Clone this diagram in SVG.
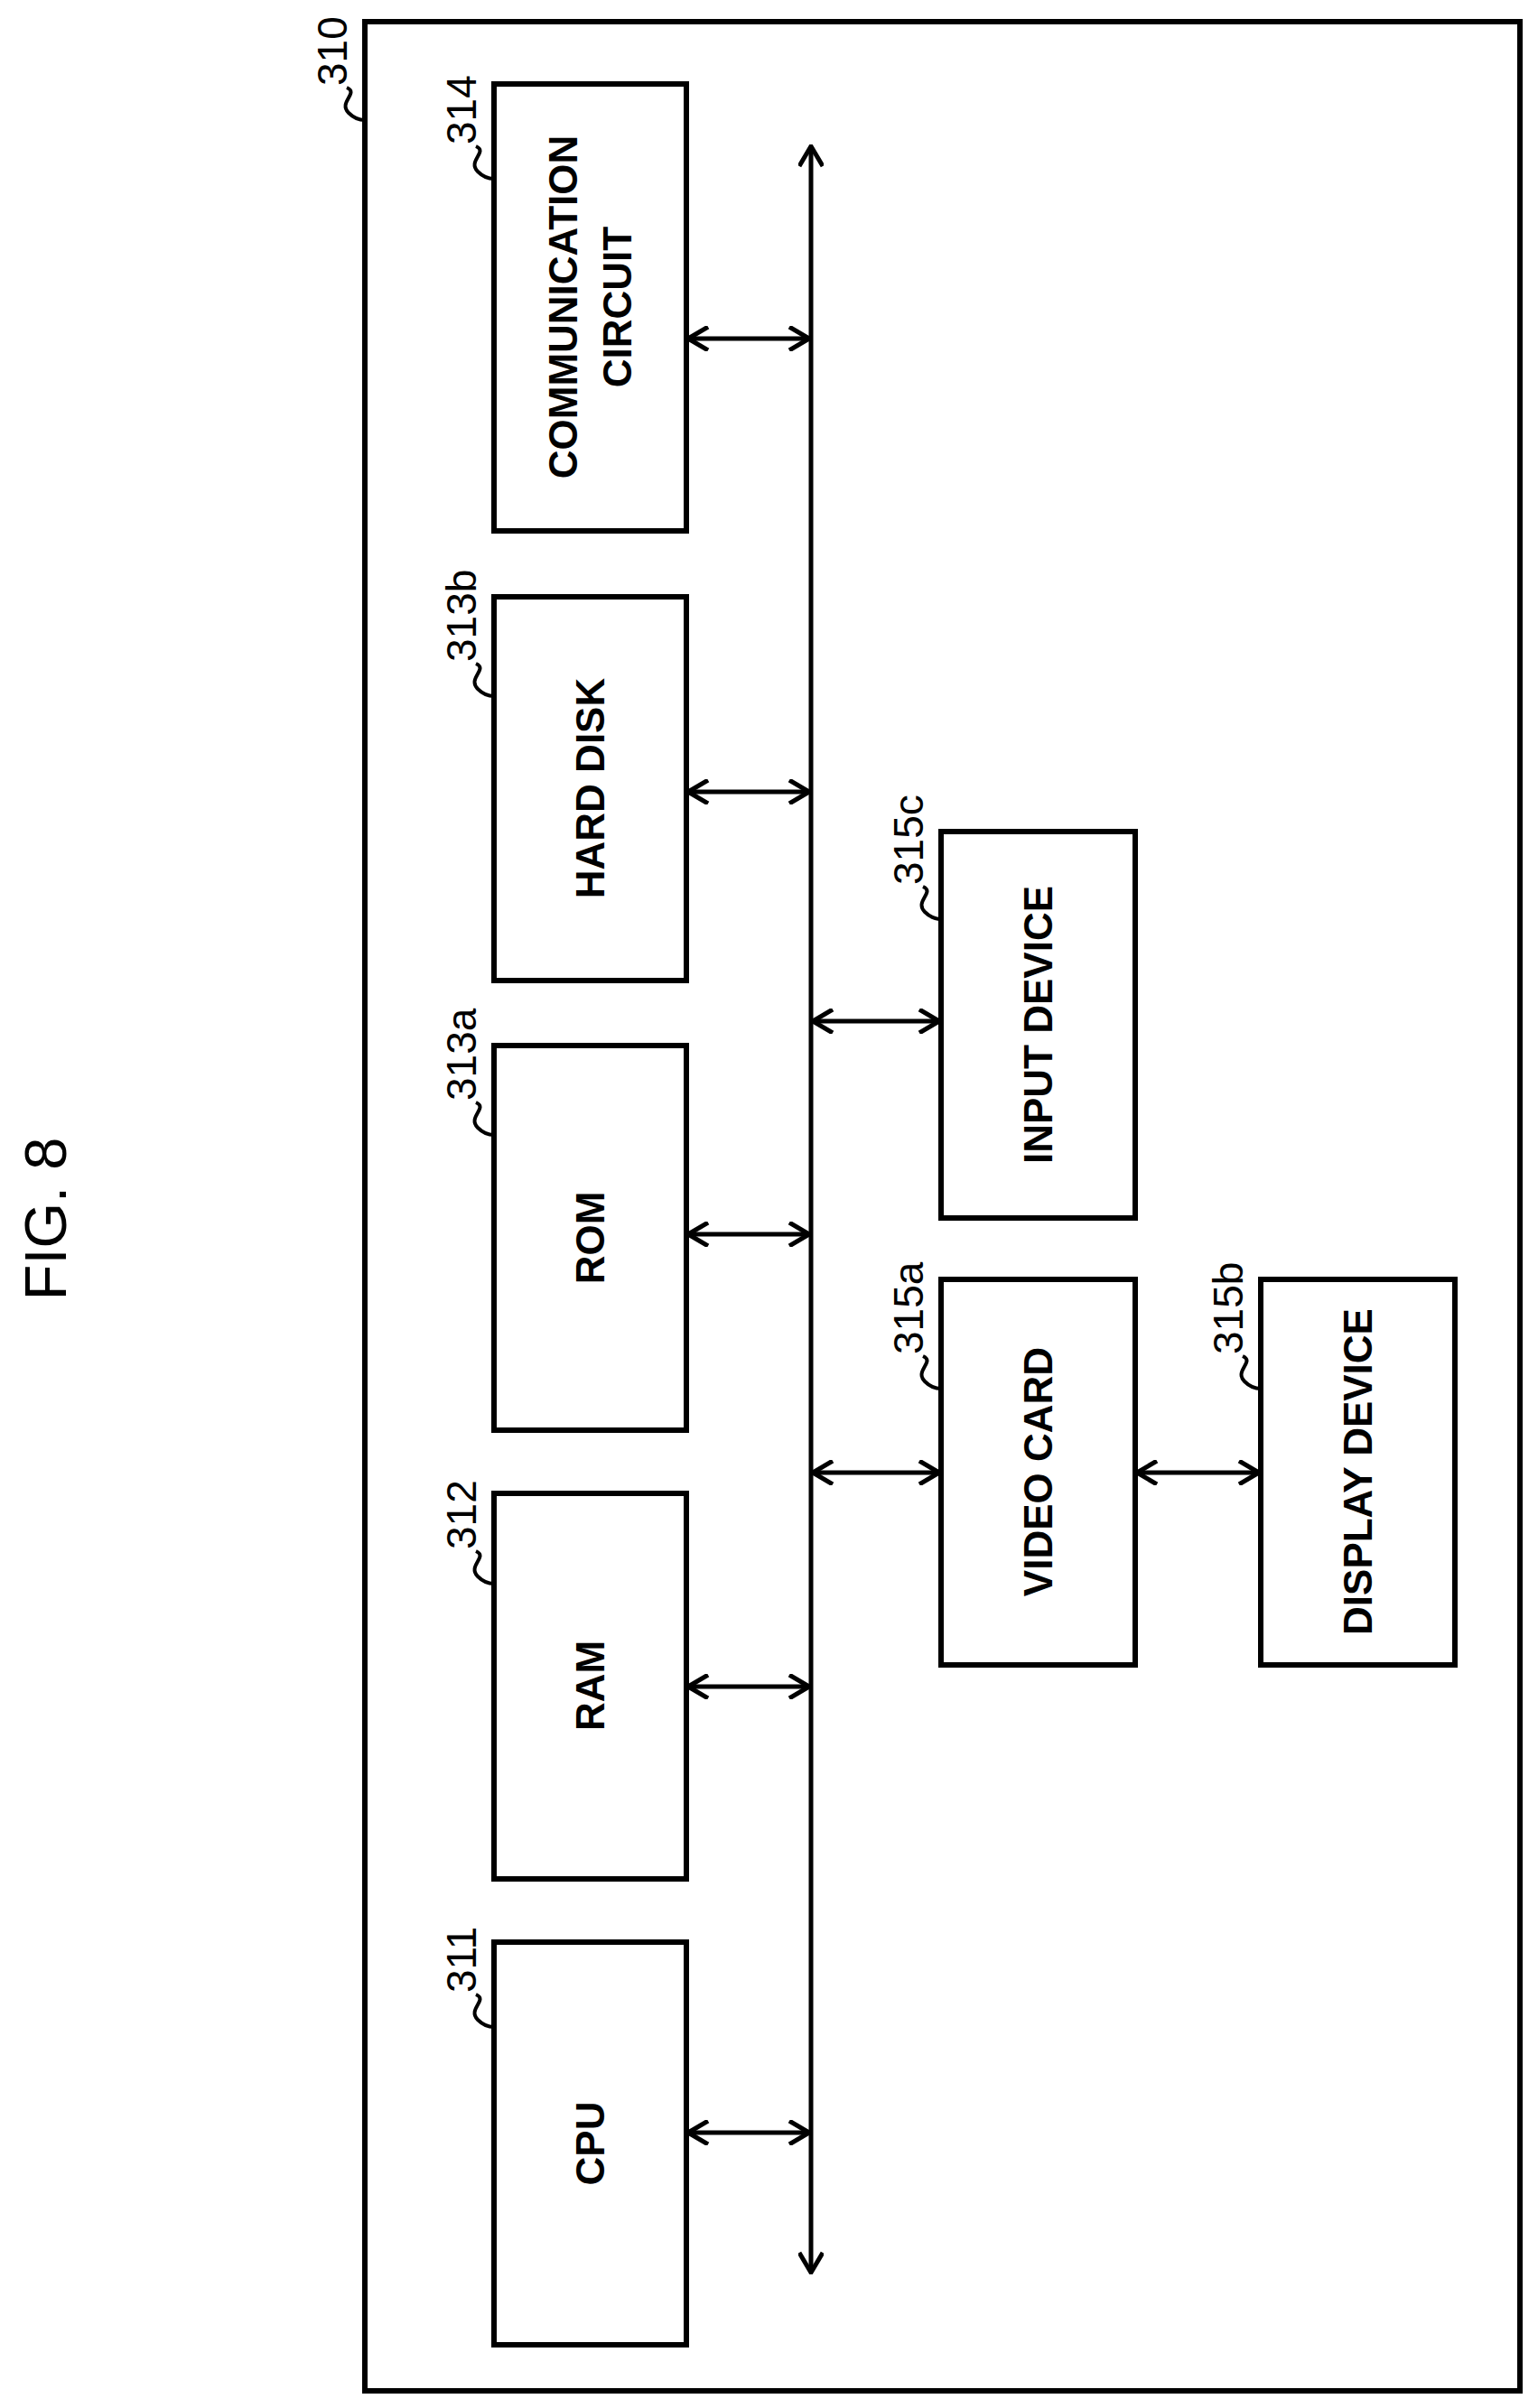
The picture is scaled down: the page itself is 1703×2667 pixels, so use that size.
<svg xmlns="http://www.w3.org/2000/svg" width="1703" height="2667" viewBox="0 0 1703 2667">
<defs>
<style>
rect{fill:#fff;stroke:#000;stroke-width:6}
.t{font-family:"Liberation Sans",Arial,sans-serif;font-size:44px;font-weight:bold;fill:#000}
.n{font-weight:normal;font-size:46px}
.c{text-anchor:middle;dominant-baseline:central}
.l{fill:none;stroke:#000;stroke-width:4}
.a{fill:none;stroke:#000;stroke-width:5}
</style>
<marker id="ah" viewBox="0 0 28 28" refX="26" refY="14" markerWidth="28" markerHeight="28" markerUnits="userSpaceOnUse" orient="auto-start-reverse"><path d="M4,1 L26,14 L4,27" fill="none" stroke="#000" stroke-width="5"/></marker>
</defs>
<rect x="0" y="0" width="1703" height="2667" style="stroke:none"/>
<text class="t" transform="translate(73,1350) rotate(-90)" text-anchor="middle" style="font-size:65px;font-weight:normal">FIG. 8</text>
<g id="n310"><rect x="404" y="24" width="1279" height="2624"/>
<text class="t n" transform="translate(384,95) rotate(-90)">310</text>
<path class="l" d="M384,97 C398,103 374,113 386,125 C392,131 398,133 404,133"/></g>
<g id="n314"><rect x="547" y="93" width="213" height="495"/>
<text class="t c" transform="translate(653,340) rotate(-90)"><tspan x="0" dy="-30">COMMUNICATION</tspan><tspan x="0" dy="60">CIRCUIT</tspan></text>
<text class="t n" transform="translate(527,160) rotate(-90)">314</text>
<path class="l" d="M527,162 C541,168 517,178 529,190 C535,196 541,198 547,198"/></g>
<g id="n313b"><rect x="547" y="661" width="213" height="425"/>
<text class="t c" transform="translate(653,873) rotate(-90)">HARD DISK</text>
<text class="t n" transform="translate(527,733) rotate(-90)">313b</text>
<path class="l" d="M527,735 C541,741 517,751 529,763 C535,769 541,771 547,771"/></g>
<g id="n313a"><rect x="547" y="1158" width="213" height="426"/>
<text class="t c" transform="translate(653,1371) rotate(-90)">ROM</text>
<text class="t n" transform="translate(527,1219) rotate(-90)">313a</text>
<path class="l" d="M527,1221 C541,1227 517,1237 529,1249 C535,1255 541,1257 547,1257"/></g>
<g id="n312"><rect x="547" y="1654" width="213" height="427"/>
<text class="t c" transform="translate(653,1867) rotate(-90)">RAM</text>
<text class="t n" transform="translate(527,1716) rotate(-90)">312</text>
<path class="l" d="M527,1718 C541,1724 517,1734 529,1746 C535,1752 541,1754 547,1754"/></g>
<g id="n311"><rect x="547" y="2151" width="213" height="446"/>
<text class="t c" transform="translate(653,2374) rotate(-90)">CPU</text>
<text class="t n" transform="translate(527,2207) rotate(-90)">311</text>
<path class="l" d="M527,2209 C541,2215 517,2225 529,2237 C535,2243 541,2245 547,2245"/></g>
<g id="n315c"><rect x="1042" y="921" width="215" height="428"/>
<text class="t c" transform="translate(1149,1135) rotate(-90)">INPUT DEVICE</text>
<text class="t n" transform="translate(1022,980) rotate(-90)">315c</text>
<path class="l" d="M1022,982 C1036,988 1012,998 1024,1010 C1030,1016 1036,1018 1042,1018"/></g>
<g id="n315a"><rect x="1042" y="1417" width="215" height="427"/>
<text class="t c" transform="translate(1149,1630) rotate(-90)">VIDEO CARD</text>
<text class="t n" transform="translate(1022,1500) rotate(-90)">315a</text>
<path class="l" d="M1022,1502 C1036,1508 1012,1518 1024,1530 C1030,1536 1036,1538 1042,1538"/></g>
<g id="n315b"><rect x="1396" y="1417" width="215" height="427"/>
<text class="t c" transform="translate(1503,1630) rotate(-90)">DISPLAY DEVICE</text>
<text class="t n" transform="translate(1376,1500) rotate(-90)">315b</text>
<path class="l" d="M1376,1502 C1390,1508 1366,1518 1378,1530 C1384,1536 1390,1538 1396,1538"/></g>
<g id="connectors">
<line class="a" x1="898" y1="162" x2="898" y2="2517" marker-start="url(#ah)" marker-end="url(#ah)"/>
<line class="a" x1="762" y1="375" x2="896" y2="375" marker-start="url(#ah)" marker-end="url(#ah)"/>
<line class="a" x1="762" y1="877" x2="896" y2="877" marker-start="url(#ah)" marker-end="url(#ah)"/>
<line class="a" x1="762" y1="1367" x2="896" y2="1367" marker-start="url(#ah)" marker-end="url(#ah)"/>
<line class="a" x1="762" y1="1868" x2="896" y2="1868" marker-start="url(#ah)" marker-end="url(#ah)"/>
<line class="a" x1="762" y1="2362" x2="896" y2="2362" marker-start="url(#ah)" marker-end="url(#ah)"/>
<line class="a" x1="900" y1="1131" x2="1040" y2="1131" marker-start="url(#ah)" marker-end="url(#ah)"/>
<line class="a" x1="900" y1="1631" x2="1040" y2="1631" marker-start="url(#ah)" marker-end="url(#ah)"/>
<line class="a" x1="1259" y1="1631" x2="1394" y2="1631" marker-start="url(#ah)" marker-end="url(#ah)"/>
</g>
</svg>
